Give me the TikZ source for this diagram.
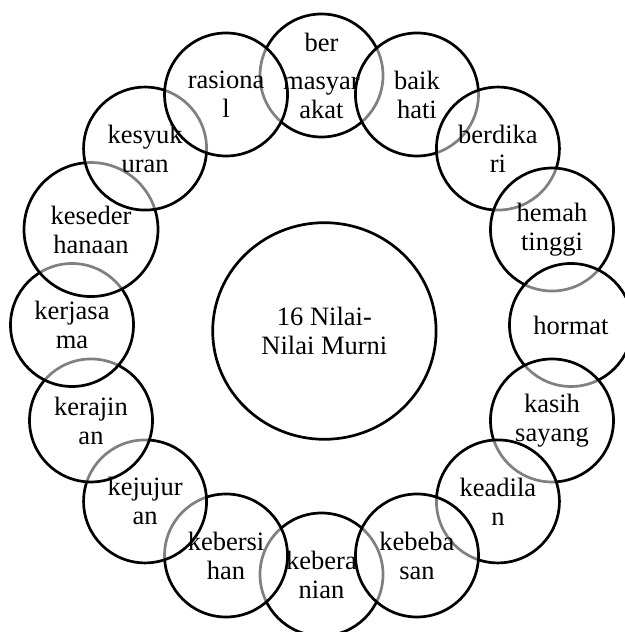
\documentclass[tikz,border=0pt]{standalone}
\usepackage{fontspec}
\setmainfont{Liberation Serif}
\usetikzlibrary{shapes.geometric}

\begin{document}
\begin{tikzpicture}[
  x=0.5pt, y=0.5pt,
  value/.style={circle, draw=black, line width=1.35pt, fill=white, fill opacity=0.5, inner sep=0pt, minimum size=61.5pt},
  word/.style={align=center, inner sep=0pt, font=\fontsize{13.25}{14.5}\selectfont},
  hub/.style={ellipse, draw=black, line width=1.35pt, fill=white, minimum width=111.7pt, minimum height=108.3pt, align=center, font=\fontsize{13.25}{14.5}\selectfont}
]
  \useasboundingbox (0,0) rectangle (625,632);
  \node[hub] (hub) at (324.4,301) {16 Nilai-\\Nilai Murni};
  \begin{scope}[shift={(321.5,307)}]
    \foreach \n/\a/\d in {9/-90/61.5, 1/90/61.5, 2/67.5/61.5, 3/45/61.5, 4/22.5/61.5, 5/0/61.5, 6/-22.5/61.5, 7/-45/61.5, 8/-67.5/61.5,
                          10/-112.5/61.5, 11/-135/61.5, 12/-157.5/61.5, 13/180/61.5, 14/157.5/67, 15/135/61.5, 16/112.5/61.5}
      \node[value, minimum size=\d pt] (v\n) at (\a:249.5) {};
  \end{scope}
  \foreach \n/\t in {1/{ber\\[4.5pt]masyar\\akat}, 2/{baik\\hati}, 3/{berdika\\ri}, 4/{hemah\\tinggi}, 5/{hormat}, 6/{kasih\\sayang},
                     7/{keadila\\n}, 8/{kebeba\\san}, 9/{kebera\\nian}, 10/{kebersi\\han}, 11/{kejujur\\an}, 12/{kerajin\\an},
                     13/{kerjasa\\ma}, 14/{keseder\\hanaan}, 15/{kesyuk\\uran}, 16/{rasiona\\l}}
    \node[word] (t\n) at (v\n) {\t};
\end{tikzpicture}
\end{document}
